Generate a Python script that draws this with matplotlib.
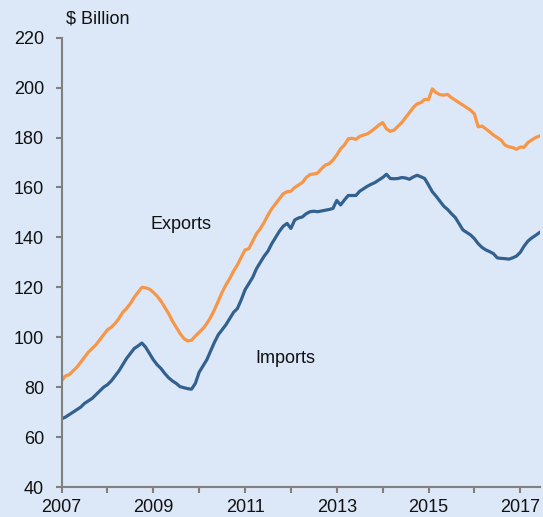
import numpy as np
import matplotlib
matplotlib.use("Agg")
import matplotlib.pyplot as plt

plt.rcParams['font.family'] = ['Liberation Sans', 'DejaVu Sans']

start_year = 2007
exports = [
    # 2007
    82.5, 84.5, 85.0, 86.5, 88.0, 90.0, 92.0, 94.0, 95.5, 97.0, 99.0, 101.0,
    # 2008
    103.0, 104.0, 105.5, 107.5, 110.0, 111.5, 113.5, 116.0, 118.0, 120.0, 119.8, 119.3,
    # 2009
    118.0, 116.5, 114.5, 112.0, 109.5, 106.5, 104.0, 101.5, 99.5, 98.5, 98.8, 100.5,
    # 2010
    102.0, 103.5, 105.5, 108.0, 111.0, 114.5, 118.0, 121.0, 123.5, 126.5, 129.0, 132.0,
    # 2011
    135.0, 135.5, 138.5, 141.5, 143.5, 146.0, 149.0, 151.5, 153.5, 155.5, 157.5, 158.3,
    # 2012
    158.5, 160.0, 161.0, 162.0, 164.0, 165.2, 165.4, 165.8, 167.5, 169.0, 169.5, 171.0,
    # 2013
    173.0, 175.5, 177.0, 179.5, 179.7, 179.3, 180.5, 181.0, 181.5, 182.5, 183.7, 185.0,
    # 2014
    186.0, 183.5, 182.5, 183.0, 184.5, 186.0, 188.0, 190.0, 192.0, 193.5, 194.0, 195.3,
    # 2015
    195.2, 199.5, 198.0, 197.2, 197.0, 197.3, 196.0, 195.0, 194.0, 193.0, 192.0, 191.0,
    # 2016
    189.5, 184.3, 184.6, 183.5, 182.3, 181.0, 180.0, 179.0, 177.0, 176.3, 176.0, 175.3,
    # 2017
    176.2, 176.1, 178.0, 179.0, 180.0, 180.6,
]
imports = [
    # 2007
    67.3, 68.0, 69.0, 70.0, 71.0, 72.0, 73.5, 74.5, 75.5, 77.0, 78.5, 80.0,
    # 2008
    81.0, 82.5, 84.5, 86.5, 89.0, 91.5, 93.5, 95.5, 96.5, 97.7, 96.0, 93.5,
    # 2009
    91.0, 89.0, 87.5, 85.5, 83.8, 82.5, 81.5, 80.2, 79.8, 79.4, 79.2, 81.5,
    # 2010
    86.0, 88.5, 91.0, 94.5, 98.0, 101.0, 103.0, 105.0, 107.5, 110.0, 111.5, 115.0,
    # 2011
    119.0, 121.5, 124.0, 127.5, 130.0, 132.5, 134.5, 137.5, 140.0, 142.5, 144.5, 145.6,
    # 2012
    143.6, 147.0, 147.8, 148.2, 149.5, 150.3, 150.5, 150.3, 150.6, 150.9, 151.2, 151.6,
    # 2013
    154.8, 153.0, 155.0, 156.8, 156.8, 156.8, 158.5, 159.5, 160.5, 161.3, 162.0, 163.0,
    # 2014
    164.0, 165.3, 163.6, 163.5, 163.6, 164.0, 163.8, 163.3, 164.2, 164.9, 164.3, 163.6,
    # 2015
    161.0, 158.3, 156.5, 154.5, 152.5, 151.2, 149.5, 148.0, 145.5, 143.0, 142.0, 141.0,
    # 2016
    139.5, 137.5, 136.0, 135.0, 134.3, 133.5, 131.8, 131.6, 131.5, 131.3, 131.8, 132.5,
    # 2017
    134.0, 136.5, 138.5, 139.8, 140.8, 141.9,
]
x_tick_labels = ['2007', '', '2009', '', '2011', '', '2013', '', '2015', '', '2017']
y_ticks = [40, 60, 80, 100, 120, 140, 160, 180, 200, 220]

t = start_year + np.arange(len(exports)) / 12.0

bg = '#DCE8F7'
fig = plt.figure(figsize=(5.43, 5.17), dpi=100, facecolor=bg)
ax = fig.add_axes([0.1134, 0.058, 0.881, 0.869], facecolor=bg)

ax.plot(t, exports, color='#F79646', lw=2.3, solid_joinstyle='round')
ax.plot(t, imports, color='#33618F', lw=2.3, solid_joinstyle='round')

ax.set_xlim(2007, 2017.43)
ax.set_ylim(40, 220)
ax.set_xticks(np.arange(2007, 2018))
ax.set_xticklabels(x_tick_labels)
ax.set_yticks(y_ticks)

for s in ['top', 'right']:
    ax.spines[s].set_visible(False)
for s in ['left', 'bottom']:
    ax.spines[s].set_color('#808080')
    ax.spines[s].set_linewidth(1.5)

ax.tick_params(axis='both', colors='#808080', labelcolor='#111111',
               labelsize=13, width=1.5, length=4.5, direction='out')
ax.tick_params(axis='y', pad=8)
ax.tick_params(axis='x', pad=4)

ax.text(2009.6, 145.3, 'Exports', fontsize=13, ha='center', va='center', color='#111111')
ax.text(2011.89, 91.6, 'Imports', fontsize=13, ha='center', va='center', color='#111111')
fig.text(66 / 543, 1 - 19 / 517, '$ Billion', fontsize=13, ha='left', va='center', color='#111111')

fig.savefig('out.png', dpi=100, facecolor=bg)
